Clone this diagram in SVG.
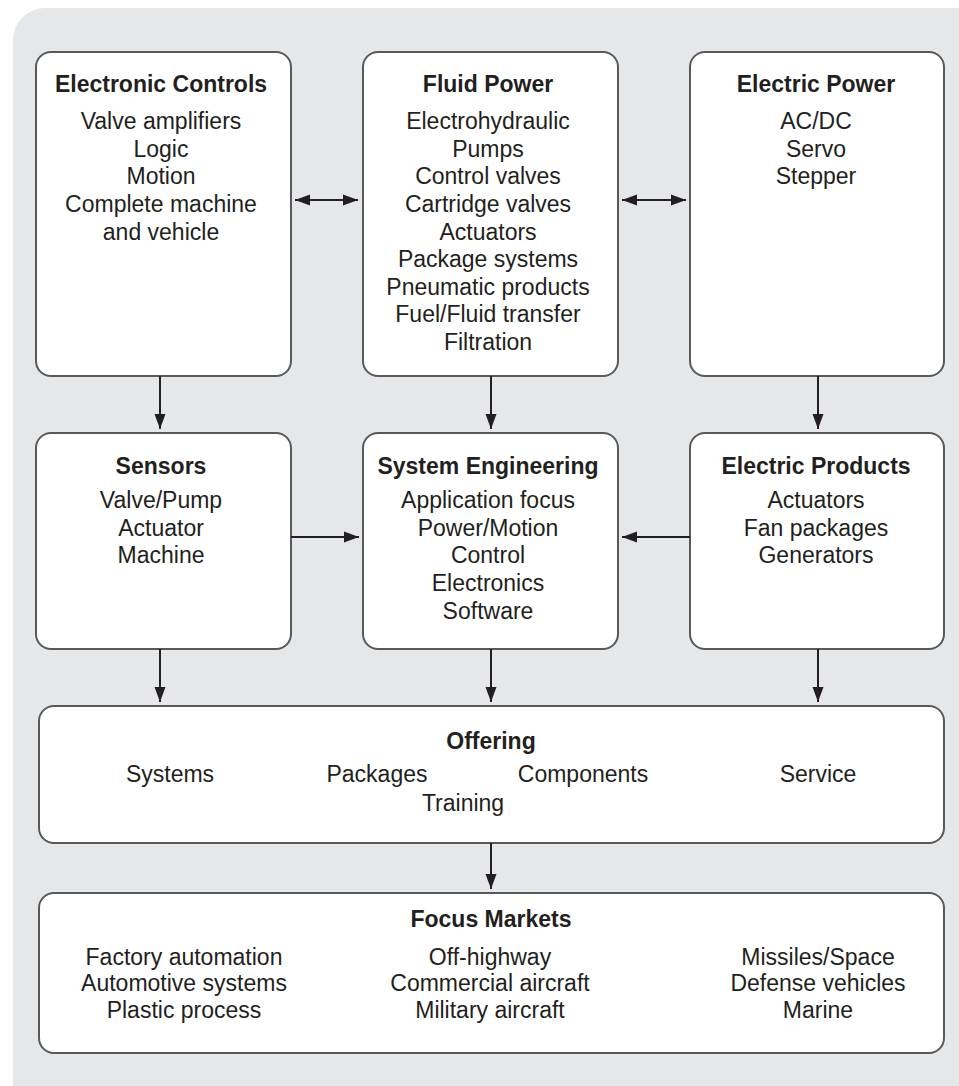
<svg xmlns="http://www.w3.org/2000/svg" width="959" height="1086" viewBox="0 0 959 1086">
  <defs>
    <style>
      .panel { fill: #e6e7e8; }
      .box { fill: #ffffff; stroke: #58595b; stroke-width: 2; }
      .title { font-family: "Liberation Sans", Arial, Helvetica, sans-serif; font-size: 23px; font-weight: bold; fill: #231f20; text-anchor: middle; }
      .item { font-family: "Liberation Sans", Arial, Helvetica, sans-serif; font-size: 23px; fill: #231f20; text-anchor: middle; }
      .link { stroke: #231f20; stroke-width: 2; fill: none; marker-end: url(#head); }
      .both { marker-start: url(#head); }
    </style>
    <marker id="head" markerUnits="userSpaceOnUse" markerWidth="16" markerHeight="12" refX="15" refY="5.5" orient="auto-start-reverse" viewBox="0 0 16 11">
      <path d="M0,0 L15,5.5 L0,11 Z" fill="#231f20"/>
    </marker>
  </defs>

  <!-- grey backdrop panel -->
  <rect class="panel" x="13" y="8" width="990" height="1120" rx="32"/>

  <!-- top row -->
  <g id="electronic-controls">
    <rect class="box" x="36" y="52" width="255" height="324" rx="15"/>
    <text class="title" x="161" y="92">Electronic Controls</text>
    <text class="item" x="161" y="129">Valve amplifiers</text>
    <text class="item" x="161" y="157">Logic</text>
    <text class="item" x="161" y="184">Motion</text>
    <text class="item" x="161" y="212">Complete machine</text>
    <text class="item" x="161" y="240">and vehicle</text>
  </g>

  <g id="fluid-power">
    <rect class="box" x="363" y="52" width="255" height="324" rx="15"/>
    <text class="title" x="488" y="92">Fluid Power</text>
    <text class="item" x="488" y="129">Electrohydraulic</text>
    <text class="item" x="488" y="157">Pumps</text>
    <text class="item" x="488" y="184">Control valves</text>
    <text class="item" x="488" y="212">Cartridge valves</text>
    <text class="item" x="488" y="240">Actuators</text>
    <text class="item" x="488" y="267">Package systems</text>
    <text class="item" x="488" y="295">Pneumatic products</text>
    <text class="item" x="488" y="322">Fuel/Fluid transfer</text>
    <text class="item" x="488" y="350">Filtration</text>
  </g>

  <g id="electric-power">
    <rect class="box" x="690" y="52" width="254" height="324" rx="15"/>
    <text class="title" x="816" y="92">Electric Power</text>
    <text class="item" x="816" y="129">AC/DC</text>
    <text class="item" x="816" y="157">Servo</text>
    <text class="item" x="816" y="184">Stepper</text>
  </g>

  <!-- middle row -->
  <g id="sensors">
    <rect class="box" x="36" y="433" width="255" height="216" rx="15"/>
    <text class="title" x="161" y="474">Sensors</text>
    <text class="item" x="161" y="508">Valve/Pump</text>
    <text class="item" x="161" y="536">Actuator</text>
    <text class="item" x="161" y="563">Machine</text>
  </g>

  <g id="system-engineering">
    <rect class="box" x="363" y="433" width="255" height="216" rx="15"/>
    <text class="title" x="488" y="474">System Engineering</text>
    <text class="item" x="488" y="508">Application focus</text>
    <text class="item" x="488" y="536">Power/Motion</text>
    <text class="item" x="488" y="563">Control</text>
    <text class="item" x="488" y="591">Electronics</text>
    <text class="item" x="488" y="619">Software</text>
  </g>

  <g id="electric-products">
    <rect class="box" x="690" y="433" width="254" height="216" rx="15"/>
    <text class="title" x="816" y="474">Electric Products</text>
    <text class="item" x="816" y="508">Actuators</text>
    <text class="item" x="816" y="536">Fan packages</text>
    <text class="item" x="816" y="563">Generators</text>
  </g>

  <!-- offering band -->
  <g id="offering">
    <rect class="box" x="39" y="706" width="905" height="137" rx="15"/>
    <text class="title" x="491" y="749">Offering</text>
    <text class="item" x="170" y="782">Systems</text>
    <text class="item" x="377" y="782">Packages</text>
    <text class="item" x="583" y="782">Components</text>
    <text class="item" x="818" y="782">Service</text>
    <text class="item" x="463" y="811">Training</text>
  </g>

  <!-- markets band -->
  <g id="focus-markets">
    <rect class="box" x="39" y="893" width="905" height="160" rx="15"/>
    <text class="title" x="491" y="927">Focus Markets</text>
    <text class="item" x="184" y="965">Factory automation</text>
    <text class="item" x="184" y="991">Automotive systems</text>
    <text class="item" x="184" y="1018">Plastic process</text>
    <text class="item" x="490" y="965">Off-highway</text>
    <text class="item" x="490" y="991">Commercial aircraft</text>
    <text class="item" x="490" y="1018">Military aircraft</text>
    <text class="item" x="818" y="965">Missiles/Space</text>
    <text class="item" x="818" y="991">Defense vehicles</text>
    <text class="item" x="818" y="1018">Marine</text>
  </g>

  <!-- connectors -->
  <g id="connectors">
    <line class="link both" x1="295" y1="200" x2="358" y2="200"/>
    <line class="link both" x1="622" y1="200" x2="686" y2="200"/>
    <line class="link" x1="160" y1="376" x2="160" y2="429"/>
    <line class="link" x1="491" y1="376" x2="491" y2="429"/>
    <line class="link" x1="818" y1="376" x2="818" y2="429"/>
    <line class="link" x1="291" y1="537" x2="359" y2="537"/>
    <line class="link" x1="690" y1="537" x2="622" y2="537"/>
    <line class="link" x1="160" y1="649" x2="160" y2="702"/>
    <line class="link" x1="491" y1="649" x2="491" y2="702"/>
    <line class="link" x1="818" y1="649" x2="818" y2="702"/>
    <line class="link" x1="491" y1="843" x2="491" y2="889"/>
  </g>
</svg>
